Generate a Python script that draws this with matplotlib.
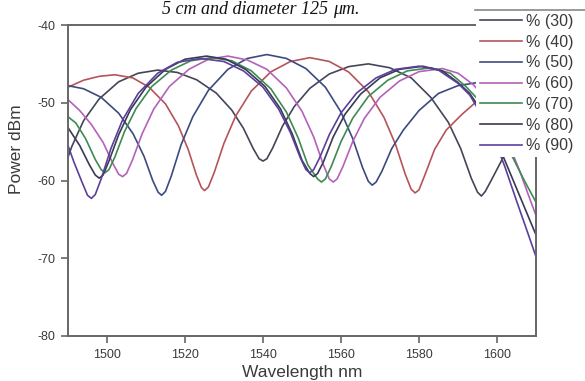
import matplotlib
matplotlib.use("Agg")
import matplotlib.pyplot as plt
from matplotlib.lines import Line2D

# ---------------- data ----------------
labels = ["% (30)", "% (40)", "% (50)", "% (60)", "% (70)", "% (80)", "% (90)"]
colors = ["#45455a", "#b5545a", "#3d4a80", "#b462b8", "#3f8a52", "#3a3a55", "#5b3f9c"]

wl30 = [1490, 1491, 1494, 1498, 1503, 1508, 1513, 1518, 1523, 1528, 1532, 1535, 1537.5, 1539, 1540,
        1541, 1542.5, 1545, 1548, 1552, 1557, 1562, 1567, 1572.5, 1578, 1583, 1587.5, 1590.7, 1593.4,
        1595, 1596, 1597, 1598.5, 1601, 1604, 1608, 1610]
p30 = [-57.0, -55.6, -52.3, -49.5, -47.3, -46.2, -45.8, -46.1, -47.05, -48.75, -50.95, -53.3, -55.9, -57.2, -57.5,
       -57.2, -55.8, -53.0, -50.5, -48.15, -46.3, -45.35, -45.0, -45.5, -46.8, -49.3, -52.5, -55.9, -59.7,
       -61.5, -62.0, -61.4, -60.0, -57.6, -54.5, -51.0, -50.0]

wl40 = [1490, 1494, 1498, 1502, 1506.6, 1510.8, 1515, 1518.3, 1520.8, 1522.9, 1524.2, 1525, 1526, 1527.5,
        1530, 1533, 1537, 1542, 1547, 1552, 1557, 1562, 1567, 1571, 1574, 1576.5, 1578, 1579, 1580,
        1581.5, 1584, 1587, 1591, 1596, 1601, 1606, 1610]
p40 = [-48.0, -47.1, -46.6, -46.4, -46.8, -48.0, -50.15, -52.96, -55.98, -59.26, -60.9, -61.3, -60.84, -58.96,
       -55.2, -51.7, -48.5, -46.03, -44.7, -44.2, -44.69, -46.06, -48.58, -51.86, -55.39, -59.22, -61.13, -61.6, -61.2,
       -59.3, -56.0, -53.5, -51.5, -49.3, -48.0, -47.5, -47.7]

wl50 = [1490, 1494, 1498.5, 1503, 1506.7, 1509.5, 1511.7, 1513.1, 1514, 1515, 1516.5, 1519, 1522, 1526,
        1531, 1536, 1541, 1546, 1551, 1556, 1560, 1563, 1565.5, 1567, 1568, 1569, 1570.5, 1573, 1576,
        1580, 1585, 1590, 1595, 1600, 1605, 1610]
p50 = [-47.8, -48.2, -49.3, -51.35, -54.0, -56.9, -59.97, -61.5, -61.9, -61.4, -59.4, -55.4, -51.8, -48.4,
       -45.7, -44.3, -43.8, -44.3, -45.6, -48.0, -51.2, -54.6, -58.3, -60.1, -60.6, -60.2, -58.8, -55.9, -53.5,
       -51.0, -48.8, -47.8, -47.4, -47.9, -49.0, -51.0]

wl60 = [1490, 1493, 1496, 1499, 1501.5, 1503, 1504, 1505, 1506.5, 1509, 1512, 1516, 1521, 1526, 1531,
        1536, 1541, 1546, 1550, 1553, 1555.5, 1557, 1558, 1559, 1560.5, 1563, 1566, 1570, 1575, 1580,
        1586, 1590, 1594, 1597, 1600, 1603, 1606, 1608, 1610]
p60 = [-49.6, -51.0, -52.8, -55.1, -57.8, -59.2, -59.5, -59.1, -57.4, -54.0, -50.8, -47.9, -45.7, -44.4, -44.0,
       -44.5, -45.7, -48.1, -51.1, -54.4, -58.0, -59.8, -60.2, -59.8, -58.2, -55.0, -52.0, -49.3, -47.2, -46.0,
       -45.6, -46.2, -47.7, -49.5, -52.0, -55.3, -59.0, -61.8, -64.5]

wl70 = [1490, 1492, 1494.5, 1497, 1498.5, 1499.5, 1500.5, 1502, 1504.5, 1507.5, 1511.5, 1516.5, 1521.5, 1527,
        1532, 1537, 1542, 1546, 1549, 1551.5, 1554, 1555, 1556, 1557.5, 1560, 1563, 1567, 1572, 1577,
        1583, 1588, 1592, 1595, 1598, 1601, 1604, 1607, 1610]
p70 = [-51.8, -52.6, -54.6, -57.3, -58.6, -59.0, -58.6, -57.0, -53.7, -50.7, -47.9, -45.8, -44.6, -44.2,
       -44.6, -45.9, -48.2, -51.2, -54.5, -58.0, -59.8, -60.2, -59.8, -58.2, -55.0, -52.0, -49.2, -47.1, -45.9,
       -45.5, -46.2, -47.9, -49.5, -51.5, -54.2, -57.0, -60.0, -62.8]

wl80 = [1490, 1493, 1495.5, 1497, 1498, 1499, 1500.5, 1503, 1506, 1510, 1515, 1520, 1525.5, 1530.5,
        1535.5, 1540.5, 1544.5, 1547.5, 1550, 1552, 1553, 1554, 1555.5, 1558, 1561, 1565, 1570, 1575,
        1581, 1586, 1590, 1593, 1596, 1599, 1602, 1605, 1608, 1610]
p80 = [-53.2, -55.5, -58.0, -59.3, -59.7, -59.3, -57.5, -54.1, -50.9, -48.0, -45.7, -44.4, -44.0, -44.4,
       -45.7, -47.9, -50.8, -54.0, -57.4, -59.1, -59.5, -59.1, -57.6, -54.4, -51.5, -48.9, -46.8, -45.7,
       -45.3, -45.9, -47.4, -48.8, -51.0, -53.8, -57.4, -61.0, -64.6, -67.0]

wl90 = [1490, 1491.5, 1493.5, 1495, 1496, 1497, 1498.5, 1501, 1504, 1508, 1513, 1518, 1524, 1530, 1535,
        1540, 1544, 1547, 1549.5, 1551, 1552, 1553, 1554.5, 1557, 1560, 1564, 1569, 1574, 1580, 1585,
        1590, 1593, 1596, 1599, 1602, 1605, 1608, 1610]
p90 = [-55.5, -57.6, -60.1, -61.9, -62.3, -61.8, -59.8, -55.9, -52.2, -48.8, -46.2, -44.8, -44.3, -44.7, -45.9,
       -48.0, -50.8, -53.8, -57.0, -58.6, -59.0, -58.6, -57.1, -54.1, -51.3, -48.75, -46.8, -45.7, -45.3, -45.8,
       -47.5, -49.0, -51.5, -54.3, -58.2, -62.6, -66.9, -69.8]

x_ticks = [1500, 1520, 1540, 1560, 1580, 1600]
y_ticks = [-40, -50, -60, -70, -80]

series = [(wl30, p30), (wl40, p40), (wl50, p50), (wl60, p60), (wl70, p70), (wl80, p80), (wl90, p90)]

# ---------------- figure ----------------
W, H = 585, 381
fig = plt.figure(figsize=(W / 100, H / 100), dpi=100)
ax = fig.add_axes([68 / W, 1 - 336 / H, (536 - 68) / W, (336 - 25) / H])

handles = []
for (wl, p), c, lab in zip(series, colors, labels):
    ln, = ax.plot(wl, p, color=c, lw=1.2, label=lab, solid_joinstyle="round")
    handles.append(ln)

ax.set_xlim(1490, 1610)
ax.set_ylim(-80, -40)
ax.set_xticks(x_ticks)
ax.set_yticks(y_ticks)
ax.set_yticklabels([str(v) for v in y_ticks])

txtc = "#3a3a3a"
font = "Liberation Sans"
for s in ax.spines.values():
    s.set_color("#666666")
    s.set_linewidth(1.4)
ax.tick_params(direction="out", length=5, width=1.2, colors="#666666",
               labelcolor=txtc, labelsize=9, pad=4)
for t in ax.get_xticklabels() + ax.get_yticklabels():
    t.set_fontfamily(font)

ax.set_xlabel("Wavelength nm", fontsize=12.5, color=txtc, family=font, labelpad=3)
ax.set_ylabel("Power dBm", fontsize=12.5, color=txtc, family=font, labelpad=5)
ax.yaxis.set_label_coords(-0.095, 0.6)

# caption text at the very top
fig.text(333 / W, 1 - 14 / H, "5 cm and diameter 125 ", fontsize=13, family="Liberation Serif",
         ha="right", va="baseline", color="#111111", style="italic")
fig.text(333 / W, 1 - 14 / H, "μm.", fontsize=13, family="Liberation Serif",
         ha="left", va="baseline", color="#111111", style="italic")

# legend (white box covering part of the plot)
leg = fig.legend(handles=handles, labels=labels, loc="upper left",
                 bbox_to_anchor=(476 / W, 1 - 10 / H), frameon=True, fancybox=False,
                 facecolor="white", edgecolor="none", framealpha=1.0,
                 prop={"family": font, "size": 11.5}, handlelength=2.6, handletextpad=0.25,
                 labelspacing=0.36, borderpad=0.25, borderaxespad=0)
for t in leg.get_texts():
    t.set_color(txtc)
fig.add_artist(Line2D([475 / W, 1.0], [1 - 10 / H, 1 - 10 / H], transform=fig.transFigure,
                      color="#888888", lw=1.2, zorder=10))

fig.savefig("out.png", dpi=100)
